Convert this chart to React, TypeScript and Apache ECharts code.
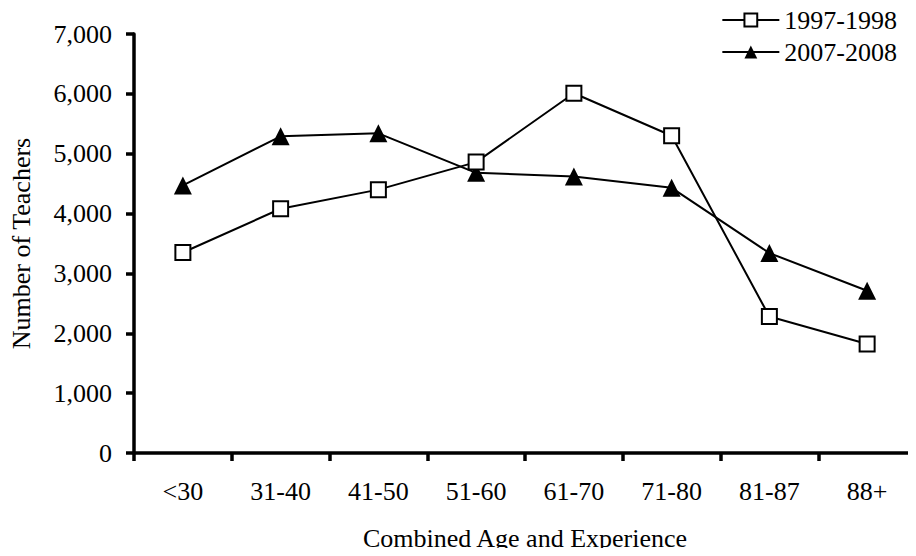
import React, { useEffect, useRef } from "react";
import * as echarts from "echarts";

const categories = ["<30", "31-40", "41-50", "51-60", "61-70", "71-80", "81-87", "88+"];
const series1997 = [3350, 4080, 4400, 4860, 6010, 5300, 2280, 1820];
const series2007 = [4470, 5290, 5340, 4680, 4620, 4430, 3340, 2710];
const seriesNames = ["1997-1998", "2007-2008"];

const FONT = "Liberation Serif";
const FS = 26;

export default function App() {
  const ref = useRef<HTMLDivElement>(null);
  useEffect(() => {
    if (!ref.current) return;
    const chart = echarts.init(ref.current, undefined, { renderer: "svg" });
    chart.setOption({
      animation: false,
      backgroundColor: "#ffffff",
      textStyle: { fontFamily: FONT, color: "#000" },
      grid: { left: 133, top: 34, width: 784, height: 426, containLabel: false },
      legend: {
        orient: "vertical",
        right: 14,
        top: 2,
        itemWidth: 57,
        itemHeight: 16,
        itemGap: 6,
        textStyle: { fontFamily: FONT, fontSize: FS, color: "#000" },
        data: seriesNames,
      },
      xAxis: {
        type: "category",
        data: categories,
        boundaryGap: true,
        axisLine: { lineStyle: { color: "#000", width: 3.5 } },
        axisTick: { show: true, length: 8, inside: false, lineStyle: { color: "#000", width: 3.5 } },
        axisLabel: { fontFamily: FONT, fontSize: FS, color: "#000", margin: 25 },
        name: "Combined Age and Experience",
        nameLocation: "middle",
        nameGap: 72,
        nameTextStyle: { fontFamily: FONT, fontSize: FS, color: "#000" },
        splitLine: { show: false },
      },
      yAxis: {
        type: "value",
        min: 0,
        max: 7000,
        interval: 1000,
        axisLine: { show: true, lineStyle: { color: "#000", width: 3.5 } },
        axisTick: { show: true, length: 8, lineStyle: { color: "#000", width: 3.5 } },
        axisLabel: {
          fontFamily: FONT,
          fontSize: FS,
          color: "#000",
          margin: 22,
          formatter: (v: number) => v.toLocaleString("en-US"),
        },
        splitLine: { show: false },
        name: "Number of Teachers",
        nameLocation: "middle",
        nameGap: 100,
        nameTextStyle: { fontFamily: FONT, fontSize: FS, color: "#000" },
      },
      series: [
        {
          name: seriesNames[0],
          type: "line",
          data: series1997,
          symbol: "rect",
          symbolSize: 15,
          lineStyle: { color: "#000", width: 2 },
          itemStyle: { color: "#fff", borderColor: "#000", borderWidth: 2 },
          z: 3,
        },
        {
          name: seriesNames[1],
          type: "line",
          data: series2007,
          symbol: "triangle",
          symbolSize: 18,
          lineStyle: { color: "#000", width: 2 },
          itemStyle: { color: "#000", borderColor: "#000", borderWidth: 0 },
          z: 2,
        },
      ],
    });
    return () => chart.dispose();
  }, []);
  return <div ref={ref} style={{ width: 916, height: 556, margin: -8 }} />;
}
